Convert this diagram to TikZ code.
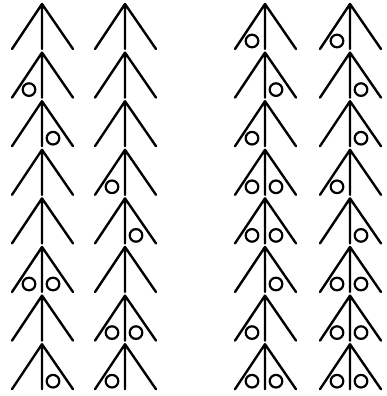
\documentclass[tikz,border=0pt]{standalone}
\usetikzlibrary{positioning}

% one glyph: apex at (#1,#2), rings code #3 (0 none, 1 left, 2 right, 3 both)
\newcommand\glyph[3]{%
  \draw[stroke] (#1-30,#2+45) -- (#1,#2) -- (#1+31,#2+45) (#1,#2) -- (#1,#2+45);
  \ifodd#3 \draw[ring] (#1-13,#2+37) circle[radius=6.3]; \fi
  \ifnum#3>1 \draw[ring] (#1+11,#2+37) circle[radius=6.3]; \fi
}

\begin{document}
\begin{tikzpicture}[
  x=1pt, y=-1pt,
  stroke/.style={line width=2.4pt, line cap=round, line join=round},
  ring/.style={line width=2.2pt},
]
  % Page
  \useasboundingbox (0,0) rectangle (386,396);

  % Rows of glyphs, one code per column
  \foreach \r/\a/\b/\c/\d in {0/0/0/1/1, 1/1/0/2/2, 2/2/0/1/2, 3/0/1/3/1,
                             4/0/2/3/2, 5/3/0/2/3, 6/0/3/1/3, 7/2/1/3/3} {
    \pgfmathsetmacro\y{4+48.6*\r}
    \glyph{42}{\y}{\a}
    \glyph{125}{\y}{\b}
    \glyph{265}{\y}{\c}
    \glyph{350}{\y}{\d}
  }
\end{tikzpicture}
\end{document}
